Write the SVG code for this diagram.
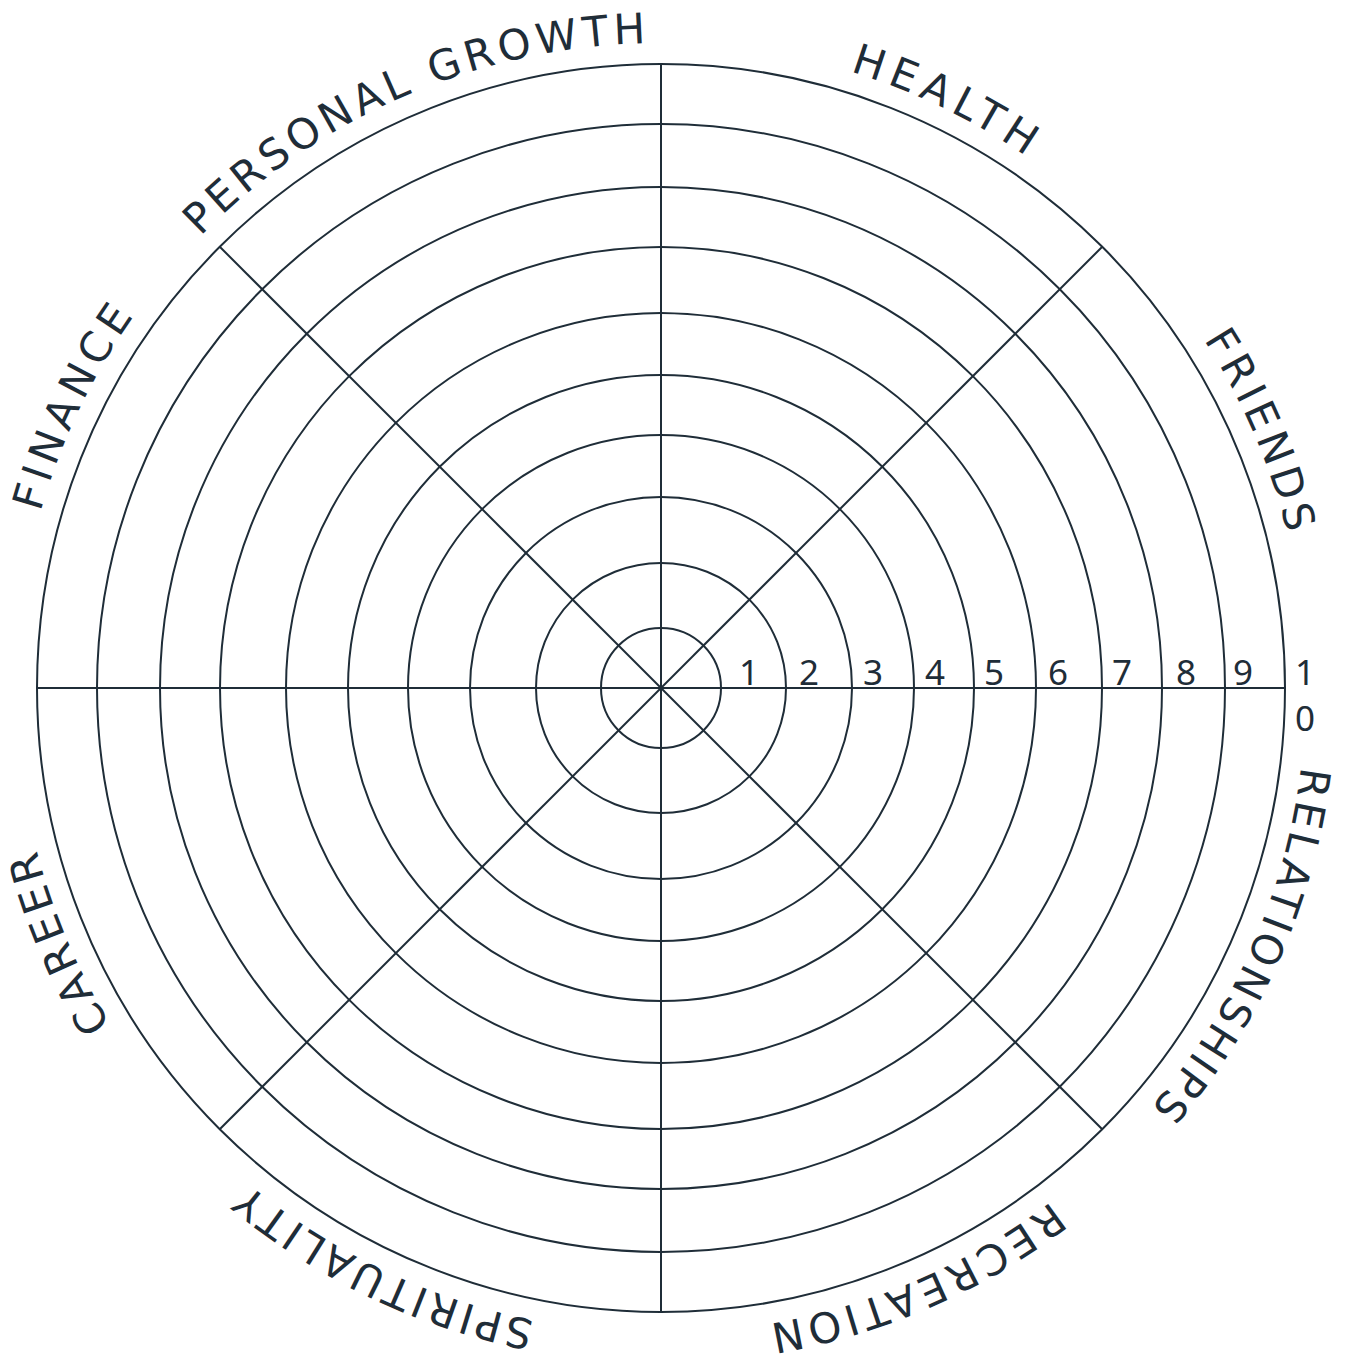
<svg xmlns="http://www.w3.org/2000/svg" xmlns:xlink="http://www.w3.org/1999/xlink" width="1347" height="1356" viewBox="0 0 1347 1356">
<style>
.ring{fill:none;stroke:#1f2d38;stroke-width:2}
.ln{stroke:#1f2d38;stroke-width:2}
.lab{font-family:"DejaVu Sans","Noto Sans","Liberation Sans",sans-serif;font-size:42px;fill:#1f2d38;font-weight:400}
.num{font-family:"Noto Sans","Liberation Sans",sans-serif;font-size:35px;fill:#1f2d38;font-weight:400;text-anchor:middle}
</style>
<defs>
<path id="arc" d="M 661 1333 A 645 645 0 1 1 661 43 A 645 645 0 1 1 661 1333"/>
</defs>
<rect width="1347" height="1356" fill="#ffffff"/>
<g id="rings">
<circle class="ring" cx="661" cy="688" r="60"/>
<circle class="ring" cx="661" cy="688" r="125"/>
<circle class="ring" cx="661" cy="688" r="191"/>
<circle class="ring" cx="661" cy="688" r="253"/>
<circle class="ring" cx="661" cy="688" r="313"/>
<circle class="ring" cx="661" cy="688" r="375"/>
<circle class="ring" cx="661" cy="688" r="441"/>
<circle class="ring" cx="661" cy="688" r="501"/>
<circle class="ring" cx="661" cy="688" r="564"/>
<circle class="ring" cx="661" cy="688" r="624"/>
</g>
<g id="connectors">
<line class="ln" x1="661" y1="64" x2="661" y2="1312"/>
<line class="ln" x1="37" y1="688" x2="1285" y2="688"/>
<line class="ln" x1="220" y1="247" x2="1102" y2="1129"/>
<line class="ln" x1="1102" y1="247" x2="220" y2="1129"/>
</g>
<g id="labels">
<text class="lab" text-anchor="middle"><textPath xlink:href="#arc" href="#arc" startOffset="287" textLength="320" lengthAdjust="spacing">SPIRITUALITY</textPath></text>
<text class="lab" text-anchor="middle"><textPath xlink:href="#arc" href="#arc" startOffset="754" textLength="190" lengthAdjust="spacing">CAREER</textPath></text>
<text class="lab" text-anchor="middle"><textPath xlink:href="#arc" href="#arc" startOffset="1300" textLength="218" lengthAdjust="spacing">FINANCE</textPath></text>
<text class="lab" text-anchor="middle"><textPath xlink:href="#arc" href="#arc" startOffset="1762" textLength="498" lengthAdjust="spacing">PERSONAL GROWTH</textPath></text>
<text class="lab" text-anchor="middle"><textPath xlink:href="#arc" href="#arc" startOffset="2316" textLength="196" lengthAdjust="spacing">HEALTH</textPath></text>
<text class="lab" text-anchor="middle"><textPath xlink:href="#arc" href="#arc" startOffset="2777" textLength="212" lengthAdjust="spacing">FRIENDS</textPath></text>
<text class="lab" text-anchor="middle"><textPath xlink:href="#arc" href="#arc" startOffset="3307" textLength="378" lengthAdjust="spacing">RELATIONSHIPS</textPath></text>
<text class="lab" text-anchor="middle"><textPath xlink:href="#arc" href="#arc" startOffset="3788" textLength="310" lengthAdjust="spacing">RECREATION</textPath></text>
</g>
<g id="numbers">
<text class="num" x="749" y="685">1</text>
<text class="num" x="809" y="685">2</text>
<text class="num" x="873" y="685">3</text>
<text class="num" x="935" y="685">4</text>
<text class="num" x="994" y="685">5</text>
<text class="num" x="1058" y="685">6</text>
<text class="num" x="1122" y="685">7</text>
<text class="num" x="1186" y="685">8</text>
<text class="num" x="1243" y="685">9</text>
<text class="num" x="1305" y="685">1</text>
<text class="num" x="1305" y="731">0</text>
</g>
</svg>
